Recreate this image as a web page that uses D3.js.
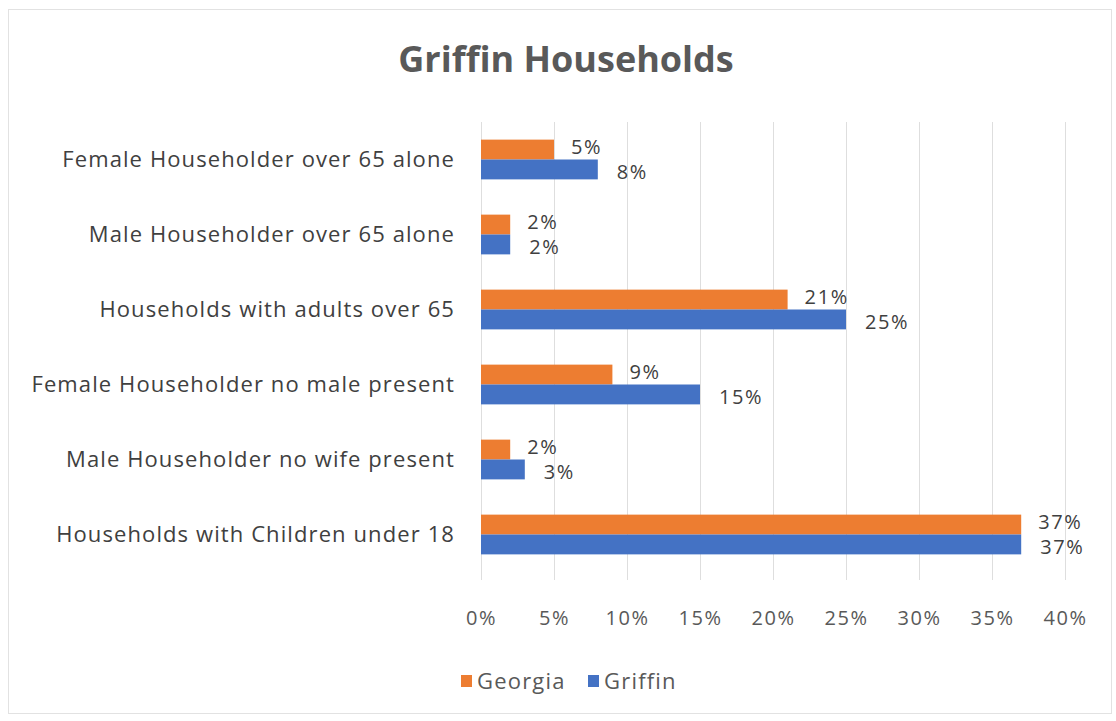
<!DOCTYPE html>
<html>
<head>
<meta charset="utf-8">
<script src="https://cdn.jsdelivr.net/npm/d3@7"></script>
<style>
  html, body { margin: 0; padding: 0; background: #fff; }
  svg { display: block; }
</style>
</head>
<body>
<svg id="chart" width="1116" height="721"></svg>
<script>
// Household composition shares, Georgia vs Griffin (percent)
const categories = [
  "Female Householder over 65 alone",
  "Male Householder over 65 alone",
  "Households with adults over 65",
  "Female Householder no male present",
  "Male Householder no wife present",
  "Households with Children under 18"
];
const seriesNames = ["Georgia", "Griffin"];
const georgia = [5, 2, 21, 9, 2, 37];
const griffin = [8, 2, 25, 15, 3, 37];
const xTicks = [0, 5, 10, 15, 20, 25, 30, 35, 40];
const colors = ["#ED7D31", "#4472C4"];

const svg = d3.select("#chart");
const FONT = "'Open Sans', Lato, sans-serif";

// chart frame
svg.append("rect")
  .attr("x", 8.5).attr("y", 9.5)
  .attr("width", 1103).attr("height", 704)
  .attr("fill", "#fff").attr("stroke", "#e2e2e2").attr("stroke-width", 1);

// title
svg.append("text")
  .attr("x", 566).attr("y", 72)
  .attr("text-anchor", "middle")
  .attr("font-family", FONT)
  .attr("font-size", 36).attr("font-weight", 700)
  .attr("fill", "#595959")
  .text("Griffin Households");

const plot = { left: 481, right: 1065, top: 122, bottom: 572 };

const x = d3.scaleLinear().domain([0, 40]).range([plot.left, plot.right]);
const y = d3.scaleBand().domain(categories).range([plot.top, plot.bottom]).paddingInner(0.47).paddingOuter(0.235);
const ySub = d3.scaleBand().domain(seriesNames).range([0, y.bandwidth()]).padding(0);

// vertical gridlines
svg.append("g")
  .selectAll("line")
  .data(xTicks)
  .join("line")
  .attr("x1", d => x(d) + 0.5).attr("x2", d => x(d) + 0.5)
  .attr("y1", plot.top).attr("y2", plot.bottom + 8)
  .attr("stroke", "#dedede").attr("stroke-width", 1);

// x axis tick labels
const xAxis = d3.axisBottom(x).tickValues(xTicks).tickFormat(d => d + "%").tickSize(0).tickPadding(0);
const gx = svg.append("g").attr("transform", `translate(0, 611)`).call(xAxis);
gx.select(".domain").remove();
gx.selectAll("text")
  .attr("font-family", FONT)
  .attr("font-size", 20).attr("letter-spacing", 1.6).attr("fill", "#595959");

// category labels
const yAxis = d3.axisLeft(y).tickSize(0).tickPadding(0);
const gy = svg.append("g").attr("transform", `translate(455, 0)`).call(yAxis);
gy.select(".domain").remove();
gy.selectAll("text")
  .attr("font-family", FONT)
  .attr("font-size", 22).attr("letter-spacing", 1.1).attr("fill", "#404040");

// bars
const rows = categories.map((c, i) => ({ cat: c, vals: [georgia[i], griffin[i]] }));
const groups = svg.append("g").selectAll("g")
  .data(rows).join("g")
  .attr("transform", d => `translate(0, ${y(d.cat)})`);

groups.selectAll("rect")
  .data(d => d.vals.map((v, j) => ({ v, s: seriesNames[j], j })))
  .join("rect")
  .attr("x", x(0))
  .attr("y", d => ySub(d.s))
  .attr("width", d => x(d.v) - x(0))
  .attr("height", ySub.bandwidth())
  .attr("fill", d => colors[d.j]);

// value labels
groups.selectAll("text.val")
  .data(d => d.vals.map((v, j) => ({ v, s: seriesNames[j], j })))
  .join("text")
  .attr("class", "val")
  .attr("x", d => x(d.v) + (d.j === 0 ? 17 : 19))
  .attr("y", d => ySub(d.s) + ySub.bandwidth() / 2 + (d.j === 0 ? -3 : 3))
  .attr("dy", "0.35em")
  .attr("font-family", FONT)
  .attr("font-size", 20).attr("letter-spacing", 1.6).attr("fill", "#404040")
  .text(d => d.v + "%");

// legend
const legend = svg.append("g").attr("transform", "translate(461, 681)");
const lx = [0, 127];
seriesNames.forEach((name, i) => {
  const g = legend.append("g").attr("transform", `translate(${lx[i]}, 0)`);
  g.append("rect").attr("x", 0).attr("y", -6).attr("width", 11).attr("height", 12).attr("fill", colors[i]);
  g.append("text").attr("x", 16).attr("y", 0).attr("dy", "0.35em")
    .attr("font-family", FONT)
    .attr("font-size", 22).attr("letter-spacing", 1.2).attr("fill", "#595959").text(name);
});
</script>
</body>
</html>
